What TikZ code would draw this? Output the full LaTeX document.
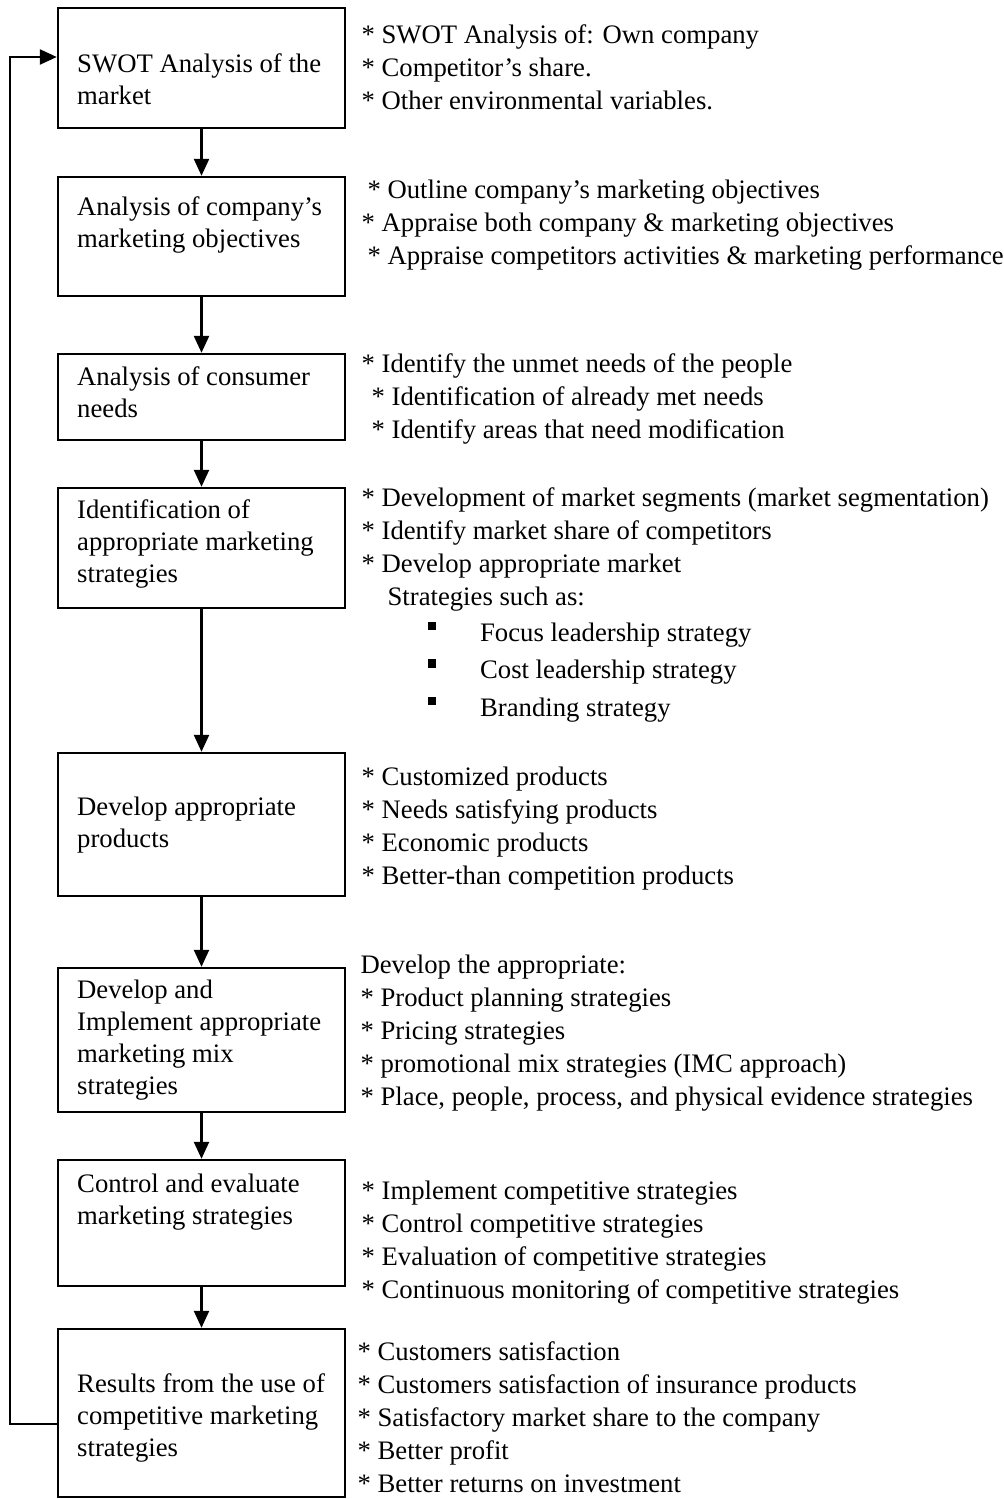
\documentclass[tikz,border=0pt]{standalone}
\usepackage{fontspec}
\setmainfont{Liberation Serif}
\usetikzlibrary{arrows.meta, positioning, calc}

\tikzset{
  box/.style={draw, line width=1.2pt, minimum width=143.5pt, inner sep=0pt},
  boxtext/.style={anchor=north west, align=left, inner sep=0pt, font=\fontsize{13.35pt}{16pt}\selectfont},
  notes/.style={anchor=north west, align=left, inner sep=0pt, font=\fontsize{13.35pt}{16.5pt}\selectfont},
  flow/.style={line width=1.2pt, -{Triangle[length=8.5pt,width=7.5pt]}}
}
\newcommand{\sqbul}{\rule[5.5pt]{4.25pt}{4.25pt}\hspace*{22pt}}

\begin{document}
\begin{tikzpicture}[x=0.5pt, y=-0.5pt]
    \useasboundingbox (0,0) rectangle (1003,1499);
    % steps
    \node[box, minimum height=60pt]   (b1) at (201.5,68)   {};
    \node[box, minimum height=59.5pt] (b2) at (201.5,236.5) {};
    \node[box, minimum height=43pt]   (b3) at (201.5,397)  {};
    \node[box, minimum height=60pt]   (b4) at (201.5,548)  {};
    \node[box, minimum height=71.5pt] (b5) at (201.5,824.5) {};
    \node[box, minimum height=72pt]   (b6) at (201.5,1040) {};
    \node[box, minimum height=63pt]   (b7) at (201.5,1223) {};
    \node[box, minimum height=84pt]   (b8) at (201.5,1413) {};
    % step texts
    \node[boxtext] (t1) at ($(b1.north west)+(20,42.6)$) {\strut SWOT Analysis of the\\market};
    \node[boxtext] (t2) at ($(b2.north west)+(20,16.6)$) {\strut Analysis of company's\\marketing objectives};
    \node[boxtext] (t3) at ($(b3.north west)+(20,9.6)$)  {\strut Analysis of consumer\\needs};
    \node[boxtext] (t4) at ($(b4.north west)+(20,8.6)$)  {\strut Identification of\\appropriate marketing\\strategies};
    \node[boxtext] (t5) at ($(b5.north west)+(20,40.6)$) {\strut Develop appropriate\\products};
    \node[boxtext] (t6) at ($(b6.north west)+(20,8.6)$)  {\strut Develop and\\Implement appropriate\\marketing mix\\strategies};
    \node[boxtext] (t7) at ($(b7.north west)+(20,10.6)$) {\strut Control and evaluate\\marketing strategies};
    \node[boxtext] (t8) at ($(b8.north west)+(20,41.6)$) {\strut Results from the use of\\competitive marketing\\strategies};
    % notes on the right
    \node[notes] (n1) at ($(b1.north east)+(15,12.9)$) {\strut * SWOT Analysis of: Own company\\* Competitor's share.\\* Other environmental variables.};
    \node[notes] (n2) at ($(b2.north east)+(15,-1.1)$) {\strut\hspace*{3pt}* Outline company's marketing objectives\\* Appraise both company \& marketing objectives\\\hspace*{3pt}* Appraise competitors activities \& marketing performance};
    \node[notes] (n3) at ($(b3.north east)+(15,-4.1)$) {\strut * Identify the unmet needs of the people\\\hspace*{5pt}* Identification of already met needs\\\hspace*{5pt}* Identify areas that need modification};
    \node[notes] (n4) at ($(b4.north east)+(15,-4.1)$) {\strut * Development of market segments (market segmentation)\\* Identify market share of competitors\\* Develop appropriate market\\\hspace*{13pt}Strategies such as:};
    \node[notes, font=\fontsize{13.35pt}{18.75pt}\selectfont] (n4b) at ($(b4.north east)+(81,127.75)$) {\strut\sqbul Focus leadership strategy\\\sqbul Cost leadership strategy\\\sqbul Branding strategy};
    \node[notes] (n5) at ($(b5.north east)+(15,9.9)$) {\strut * Customized products\\* Needs satisfying products\\* Economic products\\* Better-than competition products};
    \node[notes] (n6) at ($(b6.north east)+(14,-17.1)$) {\strut Develop the appropriate:\\* Product planning strategies\\* Pricing strategies\\* promotional mix strategies (IMC approach)\\* Place, people, process, and physical evidence strategies};
    \node[notes] (n7) at ($(b7.north east)+(15,16.9)$) {\strut * Implement competitive strategies\\* Control competitive strategies\\* Evaluation of competitive strategies\\* Continuous monitoring of competitive strategies};
    \node[notes] (n8) at ($(b8.north east)+(11,8.9)$) {\strut * Customers satisfaction\\* Customers satisfaction of insurance products\\* Satisfactory market share to the company\\* Better profit\\* Better returns on investment};
    % flow
    \draw[flow] (b1) -- (b2);
    \draw[flow] (b2) -- (b3);
    \draw[flow] (b3) -- (b4);
    \draw[flow] (b4) -- (b5);
    \draw[flow] (b5) -- (b6);
    \draw[flow] (b6) -- (b7);
    \draw[flow] (b7) -- (b8);
    % feedback loop
    \coordinate (fb) at (10,1424);
    \draw[flow] (b8.west |- fb) -- (fb) |- ($(b1.west)+(0,-11)$);
\end{tikzpicture}
\end{document}
